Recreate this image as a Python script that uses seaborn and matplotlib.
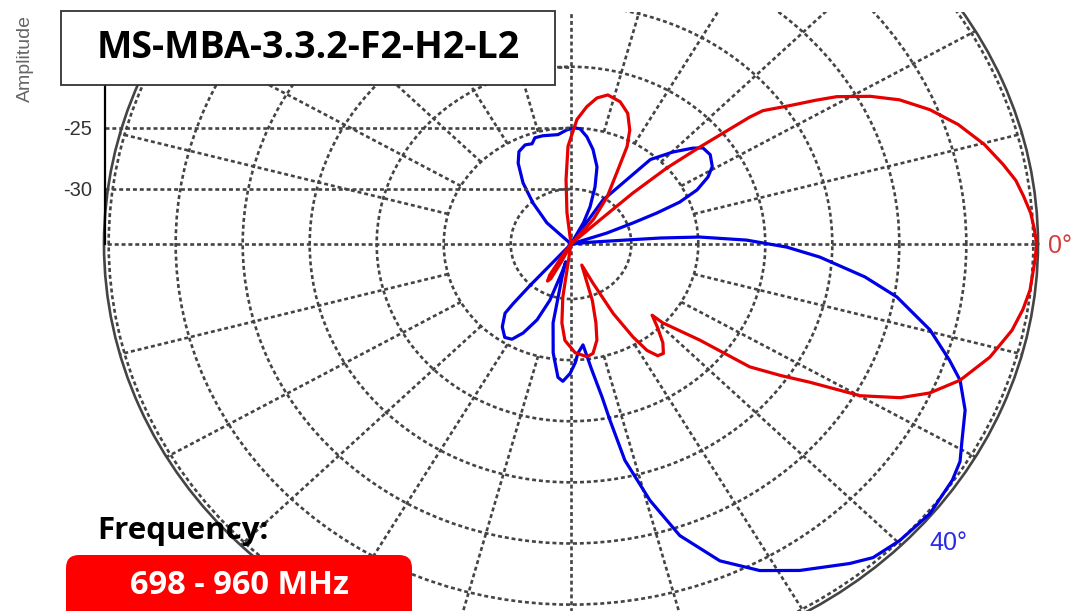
import numpy as np
import pandas as pd
import matplotlib
matplotlib.use("Agg")
import matplotlib.pyplot as plt
from matplotlib.patches import Rectangle, FancyBboxPatch
import seaborn as sns

# ---------------- data (dB vs angle in degrees, CCW from the right) -------------
red_theta = [-180, -130, -124, -122, -120, -118, -116, -112, -101, -98, -96, -93.3,
             -88, -82.6, -79.6, -76.2, -73.9, -71, -65, -62.9, -61, -58.7, -56.9,
             -54.7, -52.4, -49.7, -46.6, -43.9, -43.3, -39.3, -37, -34.5, -32.4, -29.9,
             -27.1, -24.5, -21, -16.5, -12.1, -9, -6.3, -2.2, 0, 2, 4.2, 6.6, 8.9, 11.4,
             14.8, 18.7, 22.3, 25.7, 28.4, 31.3, 32.8, 34.7, 37.3, 37.9, 39.5, 41, 42.1,
             42.3, 45, 47, 50.2, 55, 60, 62.3, 64.8, 68.4, 72.5, 77.3, 80.8, 84, 87.5,
             91.6, 94, 96.7, 99, 180]
red_db = [-34.5, -34.5, -33.5, -31.5, -31.0, -31.3, -33.0, -34.5, -34.5, -30.1, -28.0, -26.6,
          -25.6, -25.2, -25.4, -26.4, -27.8, -29.6, -32.6, -30.9, -28.0, -25.6, -24.1,
          -23.3, -23.2, -23.9, -25.1, -26.1, -25.1, -22.1, -17.8, -15.5, -13.4, -9.6,
          -6.9, -5.1, -3.4, -1.9, -0.84, -0.35, -0.04, 0.15, 0.25, 0.1, -0.1, -0.5, -0.9, -1.6,
          -2.6, -4.0, -5.55, -7.3, -9.1, -11.3, -12.8, -14.6, -16.5, -17.6, -22.0, -25.0, -28.3,
          -31.6, -34.5, -34.5, -31.9, -29.8, -27.5, -25.5, -24.2, -23.0, -22.3, -22.0, -22.4, -23.2, -24.3,
          -26.5, -29.2, -31.9, -34.5, -34.5]

blue_theta = [-180, -133, -132, -131.5, -131, -127.1, -122.9, -119.5, -116.1, -112.2, -108.9,
              -106, -105, -104, -101.7, -98.5, -95.1, -93.1, -90.4, -88.2, -86.7, -83.8,
              -81.4, -79.5, -78.6, -77.2, -74.3, -71.2, -66.8, -62.2, -57.4, -51.5, -48.7,
              -44.7, -39.5, -34.2, -31.5, -28.8, -24.8, -21, -18.6, -14.7, -10.1, -7, -3.3, -0.9,
              1.4, 3.4, 4.2, 4.5, 5.6, 8, 16, 18.5, 20.4, 21.6, 22.9, 25.2, 28.2, 31, 35.1,
              38.6, 40.8, 44.7, 49.4, 51.3, 56.5, 59, 62, 64.9, 69, 72.9, 78, 82.3, 85.9, 88.2,
              91.8, 96.2, 103.3, 107.2, 109.5, 112.9, 117.2, 120.8, 125.6, 130.2, 136.1, 140, 180]
blue_db = [-34.5, -34.5, -30.0, -28.0, -27.0, -26.0, -25.4, -25.55, -26.4, -27.8, -29.65,
           -32.2, -33.0, -31.8, -27.9, -25.5, -23.55, -23.25, -23.9, -24.75, -25.55, -26.2,
           -24.05, -21.75, -19.8, -16.35, -12.7, -9.3, -6.3, -4.3, -2.8, -1.1, -0.35,
           0.0, 0.2, -0.1, -0.45, -1.2, -2.1, -3.4, -4.7, -6.8, -9.8, -12.4, -15.9, -18.4,
           -21.4, -24.9, -27.8, -30.3, -32.85, -34.5, -34.5, -31.7, -29.6, -27.6, -25.7, -24.1, -22.9, -22.2, -21.8,
           -21.9, -22.5, -23.8, -25.4, -27.5, -30.2, -34.5, -32.5, -31.15, -29.5, -27.9, -26.6, -25.65, -25.05, -25.0,
           -25.15, -25.5, -25.4, -25.4, -25.8, -25.7, -26.0, -26.8, -28.35, -30.1, -32.0, -34.5, -34.5]

ring_ticks = [-30, -25, -20, -15, -10, -5, 0]
amp_ticks = [-30, -25, -20]
spoke_deg = list(range(0, 360, 15))
title_text = "MS-MBA-3.3.2-F2-H2-L2"
freq_label = "Frequency:"
freq_value = "698 - 960 MHz"
series_labels = ["0°", "40°"]

# ---------------- layout ----------------
W, H = 1080, 611
RMIN, RMAX = -34.5, 0.35
CX, CY, RX, RY = 571, 244, 467, 426


def px_box(x0, y0, w, h):
    return [x0 / W, 1 - (y0 + h) / H, w / W, h / H]


sns.set_style("white")
plt.rcParams["font.family"] = ["Liberation Sans", "DejaVu Sans"]

fig = plt.figure(figsize=(W / 100, H / 100), dpi=100)
fig.patch.set_facecolor("white")

grid_kw = dict(color="#444444", linewidth=1.9, linestyle=(0, (1.5, 1.1)))

# polar (elliptical) axes
ax = fig.add_axes(px_box(CX - RX, CY - RY, 2 * RX, 2 * RY), projection="polar")
ax.set_aspect("auto")
ax.set_facecolor("none")
ax.set_ylim(RMIN, RMAX)
ax.set_yticks(ring_ticks)
ax.set_yticklabels([])
ax.set_xticks([])
ax.xaxis.grid(False)
ax.yaxis.grid(True, **grid_kw)
ax.spines["polar"].set_color("#444444")
ax.spines["polar"].set_linewidth(1.9)

card = np.array([s for s in spoke_deg if s % 90 == 0])
minor = np.array([s for s in spoke_deg if s % 90 != 0])
ax.vlines(np.deg2rad(card), RMIN, RMAX, colors=grid_kw["color"],
          linewidth=grid_kw["linewidth"], linestyles=[grid_kw["linestyle"]], zorder=1)
ax.vlines(np.deg2rad(minor), -25, RMAX, colors=grid_kw["color"],
          linewidth=grid_kw["linewidth"], linestyles=[grid_kw["linestyle"]], zorder=1)

red_df = pd.DataFrame({"theta": np.deg2rad(red_theta), "r": np.clip(red_db, RMIN, None)})
blue_df = pd.DataFrame({"theta": np.deg2rad(blue_theta), "r": np.clip(blue_db, RMIN, None)})
sns.lineplot(data=blue_df, x="theta", y="r", ax=ax, sort=False, estimator=None,
             color="#0000e6", linewidth=2.3, zorder=3)
sns.lineplot(data=red_df, x="theta", y="r", ax=ax, sort=False, estimator=None,
             color="#e60000", linewidth=2.3, zorder=4)
for ln in ax.lines:
    ln.set_solid_joinstyle("round")
    ln.set_solid_capstyle("round")
ax.set_xlabel("")
ax.set_ylabel("")
ax.set_ylim(RMIN, RMAX)

# amplitude axis on the left
top_px = 12
ax2 = fig.add_axes(px_box(CX - RX + 1, top_px, RX - 1, CY - top_px))
ax2.set_facecolor("none")
ax2.set_ylim(RMIN, RMIN + (CY - top_px) * (RMAX - RMIN) / RY)
ax2.set_xlim(0, 1)
ax2.set_yticks(amp_ticks)
ax2.set_yticklabels([str(t) for t in amp_ticks])
ax2.set_xticks([])
for s in ["top", "right", "bottom"]:
    ax2.spines[s].set_visible(False)
ax2.spines["left"].set_color("black")
ax2.spines["left"].set_linewidth(1.6)
ax2.tick_params(axis="y", direction="out", length=8.5, width=1.6, color="black",
                labelsize=14.5, labelcolor="#333333", pad=1)
ax2.yaxis.grid(True, **grid_kw)
ax2.set_ylabel("Amplitude", fontsize=14, color="#666666")
ax2.yaxis.set_label_coords(-0.152, 0.80)

# top clip strip
fig.add_artist(Rectangle((0, 1 - top_px / H), 1, top_px / H, transform=fig.transFigure,
                         facecolor="white", edgecolor="none", zorder=5))

# title box
tb = px_box(61, 11, 494, 74)
fig.add_artist(Rectangle((tb[0], tb[1]), tb[2], tb[3], transform=fig.transFigure,
                         facecolor="white", edgecolor="#333333", linewidth=1.3, zorder=6))
fig.text(tb[0] + tb[2] / 2, tb[1] + tb[3] / 2, title_text, ha="center", va="center",
         fontsize=27, fontweight="bold", family=["Open Sans", "DejaVu Sans"], color="black", zorder=7)

# frequency label + red box
fig.text(97 / W, 1 - 531 / H, freq_label, ha="left", va="center", fontsize=22.5,
         fontweight="bold", family=["Open Sans", "DejaVu Sans"], color="black", zorder=7)
fb = px_box(66, 555, 346, 70)
fig.add_artist(FancyBboxPatch((fb[0], fb[1]), fb[2], fb[3], transform=fig.transFigure,
                              boxstyle="round,pad=0,rounding_size=0.012",
                              facecolor="#ff0000", edgecolor="none", zorder=6, mutation_aspect=W / H))
fig.text(239 / W, 1 - 586 / H, freq_value, ha="center", va="center", fontsize=23.5,
         fontweight="bold", family=["Open Sans", "DejaVu Sans"], color="white", zorder=7)

# series labels
fig.text(1048 / W, 1 - 246 / H, series_labels[0], ha="left", va="center", fontsize=18,
         color="#d43c3c", zorder=7)
fig.text(929 / W, 1 - 543 / H, series_labels[1], ha="left", va="center", fontsize=18,
         color="#2a2ae8", zorder=7)

fig.savefig("out.png", dpi=100, facecolor="white")
